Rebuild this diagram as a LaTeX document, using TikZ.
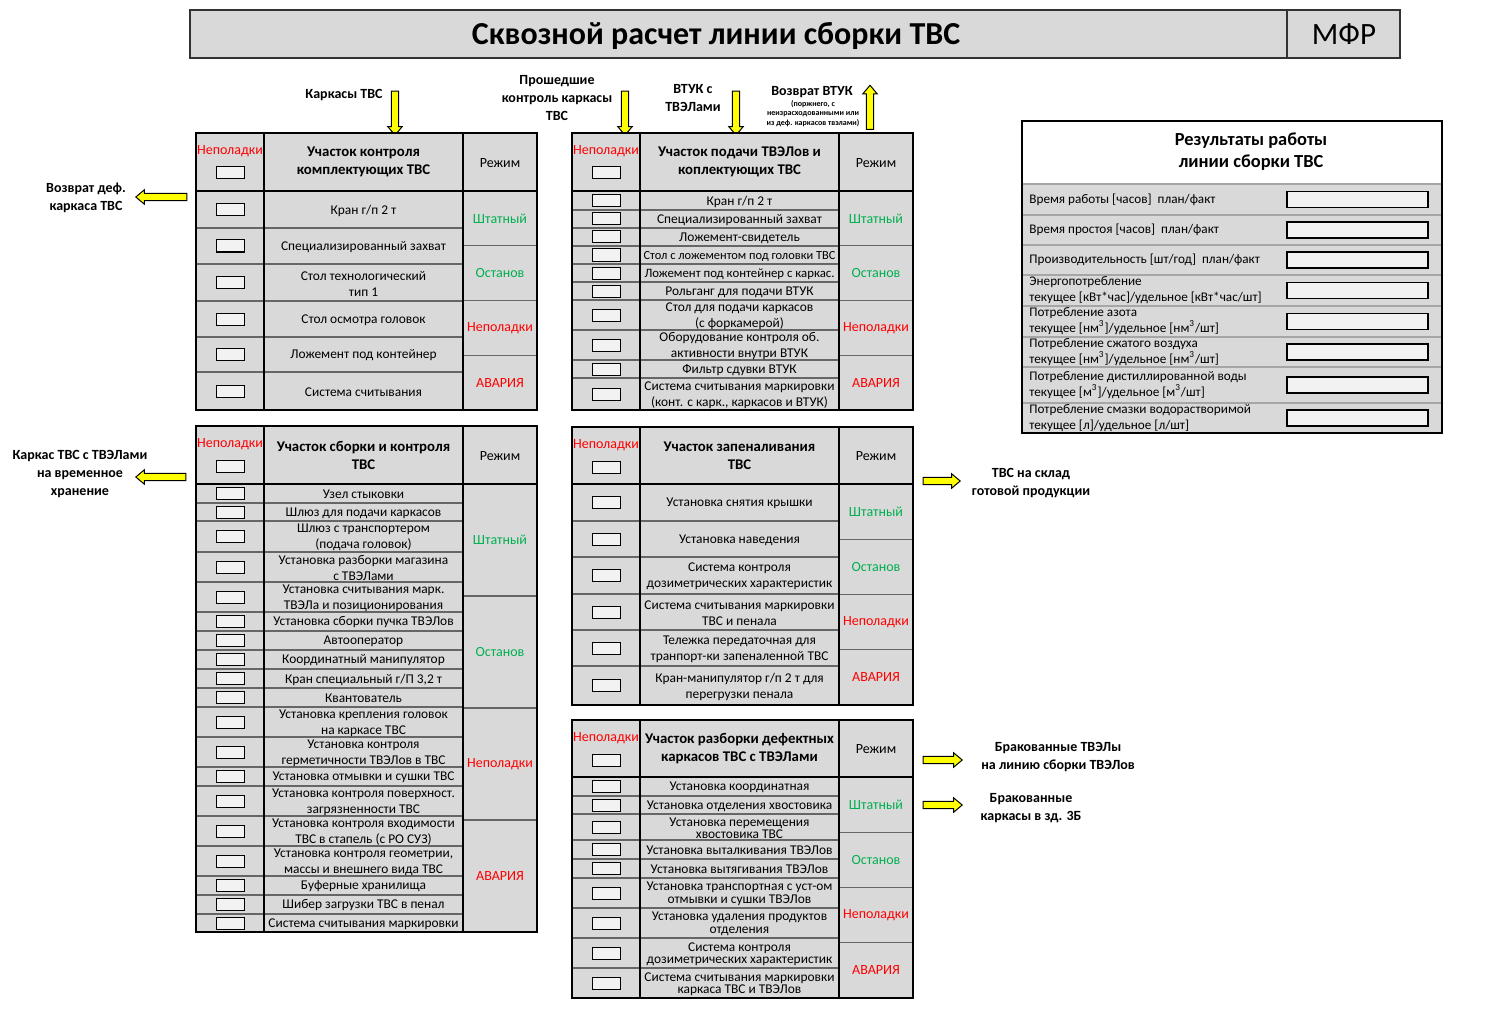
\documentclass[tikz,border=0pt]{standalone}
\usepackage{fontspec}
\setmainfont{Carlito}
\usetikzlibrary{shapes.arrows}

\definecolor{cellgray}{HTML}{D9D9D9}
\definecolor{lampfill}{HTML}{F2F2F2}
\definecolor{modegreen}{HTML}{00B050}
\definecolor{modered}{HTML}{FF0000}
\definecolor{flowyellow}{HTML}{FFFF00}

\tikzset{
  frameline/.style={draw=black, line width=1pt},
  rowline/.style={draw=black!60, line width=0.6pt},
  resultline/.style={draw=black!35, line width=0.6pt},
  titleline/.style={draw=black!80, line width=0.7pt},
  lamp/.style={draw=black, fill=lampfill, line width=0.5pt, minimum width=14pt, minimum height=6pt, inner sep=0pt},
  itemtext/.style={font=\fontsize{6.7}{8}\selectfont, align=center, inner sep=0pt},
  tight/.style={font=\fontsize{6.7}{6.25}\selectfont},
  headtext/.style={font=\bfseries\fontsize{7.4}{9}\selectfont, align=center, inner sep=0pt},
  modetext/.style={font=\fontsize{7}{8}\selectfont, inner sep=0pt},
  flowlabel/.style={font=\bfseries\fontsize{7}{9}\selectfont, align=center, inner sep=0pt},
  notetext/.style={font=\bfseries\fontsize{4}{4.8}\selectfont, align=center, inner sep=0pt},
  flowarrow/.style={single arrow, draw=black, fill=flowyellow, line width=0.5pt, inner sep=1.6pt,
    single arrow head extend=1.8pt, single arrow tip angle=80, minimum height=22pt},
  resulttext/.style={font=\fontsize{6.6}{8}\selectfont, align=left, anchor=west, inner sep=0pt},
  resultbox/.style={draw=black, fill=lampfill, line width=0.6pt, minimum width=70.5pt, minimum height=8pt, inner sep=0pt},
}

% one equipment row: [options]{x}{ytop}{ybot}{name}{text}
\newcommand{\unitrow}[6][]{%
  \draw[rowline] (#2,#4) -- ++(267,0);
  \node[lamp] (#5-lamp) at ({#2+34},{(#3+#4)/2}) {};
  \node[itemtext,#1] (#5) at ({#2+167.5},{(#3+#4)/2+1}) {#6};
}

% frame, header and mode column of a zone: {x}{ytop}{yhead}{ybot}{name}{title}
\newcommand{\unitzone}[6]{%
  \foreach \k in {1,2,3}
    \draw[rowline] ({#1+267},{#3+\k*(#4-#3)/4}) -- ({#1+341},{#3+\k*(#4-#3)/4});
  \draw[frameline] (#1,#3) -- ({#1+341},#3);
  \draw[frameline] ({#1+68},#2) -- ({#1+68},#4);
  \draw[frameline] ({#1+267},#2) -- ({#1+267},#4);
  \draw[frameline] (#1,#2) rectangle ({#1+341},#4);
  \node[modetext, text=modered] (#5-faulthead) at ({#1+34},{#2+18}) {Неполадки};
  \node[lamp] (#5-lamp) at ({#1+34},{#2+40}) {};
  \node[headtext] (#5) at ({#1+167.5},{(#2+#3)/2}) {#6};
  \node[modetext] (#5-mode) at ({#1+304},{(#2+#3)/2+1}) {Режим};
  \node[modetext, text=modegreen] (#5-norm) at ({#1+304},{#3+(#4-#3)/8}) {Штатный};
  \node[modetext, text=modegreen] (#5-stop) at ({#1+304},{#3+3*(#4-#3)/8}) {Останов};
  \node[modetext, text=modered] (#5-fault) at ({#1+304},{#3+5*(#4-#3)/8}) {Неполадки};
  \node[modetext, text=modered] (#5-alarm) at ({#1+304},{#3+7*(#4-#3)/8}) {АВАРИЯ};
}

\begin{document}
\begin{tikzpicture}[x=0.5pt, y=-0.5pt]
  \useasboundingbox (0,0) rectangle (1487,1016);

  % title bar
  \draw[titleline, fill=cellgray] (190,10) rectangle (1400,58);
  \draw[titleline] (1287,10) -- (1287,58);
  \node[font=\bfseries\fontsize{16}{18}\selectfont] (title) at (716,35.5) {Сквозной расчет линии сборки ТВС};
  \node[font=\fontsize{15.5}{18}\selectfont] (mfr) at (1344,34) {МФР};

  % incoming and outgoing flows
  \node[flowlabel] (framesin) at (344,95) {Каркасы ТВС};
  \node[flowlabel] (passedin) at (557,98) {Прошедшие\\контроль каркасы\\ТВС};
  \node[flowlabel] (vtukin) at (693,98) {ВТУК с\\ТВЭЛами};
  \node[flowlabel] (vtukout) at (812,92) {Возврат ВТУК};
  \node[notetext] (vtuknote) at (813,113.5) {(поржнего, с\\неизрасходованными или\\из деф. каркасов твэлами)};
  \node[flowlabel] (defectout) at (86,198) {Возврат деф.\\каркаса ТВС};
  \node[flowlabel] (storageout) at (80,474) {Каркас ТВС с ТВЭЛами\\на временное\\хранение};
  \node[flowlabel] (readyout) at (1031,483) {ТВС на склад\\готовой продукции};
  \node[flowlabel] (rejectfuel) at (1058,757) {Бракованные ТВЭЛы\\на линию сборки ТВЭЛов};
  \node[flowlabel] (rejectframe) at (1031,808) {Бракованные\\каркасы в зд. 3Б};

  \node[flowarrow, rotate=-90] (framesarrow) at (395,111) {};
  \node[flowarrow, rotate=-90] (passedarrow) at (625,111) {};
  \node[flowarrow, rotate=-90] (vtukarrow) at (736,111) {};
  \node[flowarrow, rotate=90] (returnarrow) at (870,109.5) {};
  \node[flowarrow, rotate=180, minimum height=25.5pt] (defectarrow) at (163.5,197) {};
  \node[flowarrow, rotate=180, minimum height=25pt] (storagearrow) at (163,477) {};
  \node[flowarrow, minimum height=18.5pt] (readyarrow) at (939.5,481) {};
  \node[flowarrow, minimum height=19.5pt] (rejectfuelarrow) at (940.5,760) {};
  \node[flowarrow, minimum height=19.5pt] (rejectframearrow) at (940.5,805) {};

  % zone 1: incoming components
  \fill[cellgray] (196,133) rectangle (537,410);
  \unitrow{196}{191}{228}{ctrl-1}{Кран г/п 2 т}
  \unitrow{196}{228}{264}{ctrl-2}{Специализированный захват}
  \unitrow{196}{264}{301}{ctrl-3}{Стол технологический\\тип 1}
  \unitrow{196}{301}{337}{ctrl-4}{Стол осмотра головок}
  \unitrow{196}{337}{372}{ctrl-5}{Ложемент под контейнер}
  \unitrow{196}{372}{410}{ctrl-6}{Система считывания}
  \unitzone{196}{133}{191}{410}{ctrl}{Участок контроля\\комплектующих ТВС}

  % zone 2: feeding
  \fill[cellgray] (572,133) rectangle (913,410);
  \unitrow{572}{191}{210}{feed-1}{Кран г/п 2 т}
  \unitrow{572}{210}{228}{feed-2}{Специализированный захват}
  \unitrow{572}{228}{246}{feed-3}{Ложемент-свидетель}
  \unitrow[font=\fontsize{6.2}{8}\selectfont]{572}{246}{264}{feed-4}{Стол с ложементом под головки ТВС}
  \unitrow[font=\fontsize{6.4}{8}\selectfont]{572}{264}{282}{feed-5}{Ложемент под контейнер с каркас.}
  \unitrow{572}{282}{300}{feed-6}{Рольганг для подачи ВТУК}
  \unitrow{572}{300}{330}{feed-7}{Стол для подачи каркасов\\(с форкамерой)}
  \unitrow{572}{330}{360}{feed-8}{Оборудование контроля об.\\активности внутри ВТУК}
  \unitrow{572}{360}{378}{feed-9}{Фильтр сдувки ВТУК}
  \unitrow{572}{378}{410}{feed-10}{Система считывания маркировки\\(конт. с карк., каркасов и ВТУК)}
  \unitzone{572}{133}{191}{410}{feed}{Участок подачи ТВЭЛов и\\коплектующих ТВС}

  % zone 3: assembly
  \fill[cellgray] (196,426) rectangle (537,932);
  \unitrow{196}{484}{503}{asm-1}{Узел стыковки}
  \unitrow{196}{503}{521}{asm-2}{Шлюз для подачи каркасов}
  \unitrow{196}{521}{552}{asm-3}{Шлюз с транспортером\\(подача головок)}
  \unitrow{196}{552}{582}{asm-4}{Установка разборки магазина\\с ТВЭЛами}
  \unitrow{196}{582}{612}{asm-5}{Установка считывания марк.\\ТВЭЛа и позиционирования}
  \unitrow{196}{612}{631}{asm-6}{Установка сборки пучка ТВЭЛов}
  \unitrow{196}{631}{650}{asm-7}{Автооператор}
  \unitrow{196}{650}{669}{asm-8}{Координатный манипулятор}
  \unitrow{196}{669}{688}{asm-9}{Кран специальный г/П 3,2 т}
  \unitrow{196}{688}{707}{asm-10}{Квантователь}
  \unitrow{196}{707}{737}{asm-11}{Установка крепления головок\\на каркасе ТВС}
  \unitrow{196}{737}{767}{asm-12}{Установка контроля\\герметичности ТВЭЛов в ТВС}
  \unitrow{196}{767}{786}{asm-13}{Установка отмывки и сушки ТВС}
  \unitrow{196}{786}{816}{asm-14}{Установка контроля поверхност.\\загрязненности ТВС}
  \unitrow{196}{816}{846}{asm-15}{Установка контроля входимости\\ТВС в стапель (с РО СУЗ)}
  \unitrow{196}{846}{876}{asm-16}{Установка контроля геометрии,\\массы и внешнего вида ТВС}
  \unitrow{196}{876}{895}{asm-17}{Буферные хранилища}
  \unitrow{196}{895}{914}{asm-18}{Шибер загрузки ТВС в пенал}
  \unitrow{196}{914}{932}{asm-19}{Система считывания маркировки}
  \unitzone{196}{426}{484}{932}{asm}{Участок сборки и контроля\\ТВС}

  % zone 4: canning
  \fill[cellgray] (572,427) rectangle (913,705);
  \unitrow{572}{484}{521}{can-1}{Установка снятия крышки}
  \unitrow{572}{521}{557}{can-2}{Установка наведения}
  \unitrow{572}{557}{594}{can-3}{Система контроля\\дозиметрических характеристик}
  \unitrow{572}{594}{630}{can-4}{Система считывания маркировки\\ТВС и пенала}
  \unitrow{572}{630}{666}{can-5}{Тележка передаточная для\\транпорт-ки запеналенной ТВС}
  \unitrow{572}{666}{705}{can-6}{Кран-манипулятор г/п 2 т для\\перегрузки пенала}
  \unitzone{572}{427}{484}{705}{can}{Участок запеналивания\\ТВС}

  % zone 5: dismantling of rejected frames
  \fill[cellgray] (572,720) rectangle (913,998);
  \unitrow{572}{777}{796}{dis-1}{Установка координатная}
  \unitrow{572}{796}{814}{dis-2}{Установка отделения хвостовика}
  \unitrow[tight]{572}{814}{840}{dis-3}{Установка перемещения\\хвостовика ТВС}
  \unitrow{572}{840}{859}{dis-4}{Установка выталкивания ТВЭЛов}
  \unitrow{572}{859}{878}{dis-5}{Установка вытягивания ТВЭЛов}
  \unitrow[tight]{572}{878}{908}{dis-6}{Установка транспортная с уст-ом\\отмывки и сушки ТВЭЛов}
  \unitrow[tight]{572}{908}{938}{dis-7}{Установка удаления продуктов\\отделения}
  \unitrow[tight]{572}{938}{968}{dis-8}{Система контроля\\дозиметрических характеристик}
  \unitrow[tight]{572}{968}{998}{dis-9}{Система считывания маркировки\\каркаса ТВС и ТВЭЛов}
  \unitzone{572}{720}{777}{998}{dis}{Участок разборки дефектных\\каркасов ТВС с ТВЭЛами}

  % line results
  \fill[white] (1022,121) rectangle (1442,184);
  \fill[cellgray] (1022,184) rectangle (1442,433);
  \foreach \y in {184,215,245,275,306,337,367,403}
    \draw[resultline] (1022,\y) -- (1442,\y);
  \draw[frameline] (1022,121) rectangle (1442,433);
  \node[font=\bfseries\fontsize{9.2}{11}\selectfont, align=center] (results) at (1251,152) {Результаты работы\\линии сборки ТВС};

  \node[resulttext] (worktime) at (1029,199.5) {Время работы [часов]\ \ план/факт};
  \node[resultbox] (worktime-box) at (1357.5,199.5) {};
  \node[resulttext] (idletime) at (1029,230) {Время простоя [часов]\ \ план/факт};
  \node[resultbox] (idletime-box) at (1357.5,230) {};
  \node[resulttext] (output) at (1029,260) {Производительность [шт/год]\ \ план/факт};
  \node[resultbox] (output-box) at (1357.5,260) {};
  \node[resulttext] (power) at (1029,290.5) {Энергопотребление\\текущее [кВт*час]/удельное [кВт*час/шт]};
  \node[resultbox] (power-box) at (1357.5,290.5) {};
  \node[resulttext] (nitrogen) at (1029,321.5) {Потребление азота\\текущее [нм\textsuperscript{3}]/удельное [нм\textsuperscript{3}/шт]};
  \node[resultbox] (nitrogen-box) at (1357.5,321.5) {};
  \node[resulttext] (air) at (1029,352) {Потребление сжатого воздуха\\текущее [нм\textsuperscript{3}]/удельное [нм\textsuperscript{3}/шт]};
  \node[resultbox] (air-box) at (1357.5,352) {};
  \node[resulttext] (water) at (1029,385) {Потребление дистиллированной воды\\текущее [м\textsuperscript{3}]/удельное [м\textsuperscript{3}/шт]};
  \node[resultbox] (water-box) at (1357.5,385) {};
  \node[resulttext] (lubricant) at (1029,418) {Потребление смазки водорастворимой\\текущее [л]/удельное [л/шт]};
  \node[resultbox] (lubricant-box) at (1357.5,418) {};
\end{tikzpicture}
\end{document}
